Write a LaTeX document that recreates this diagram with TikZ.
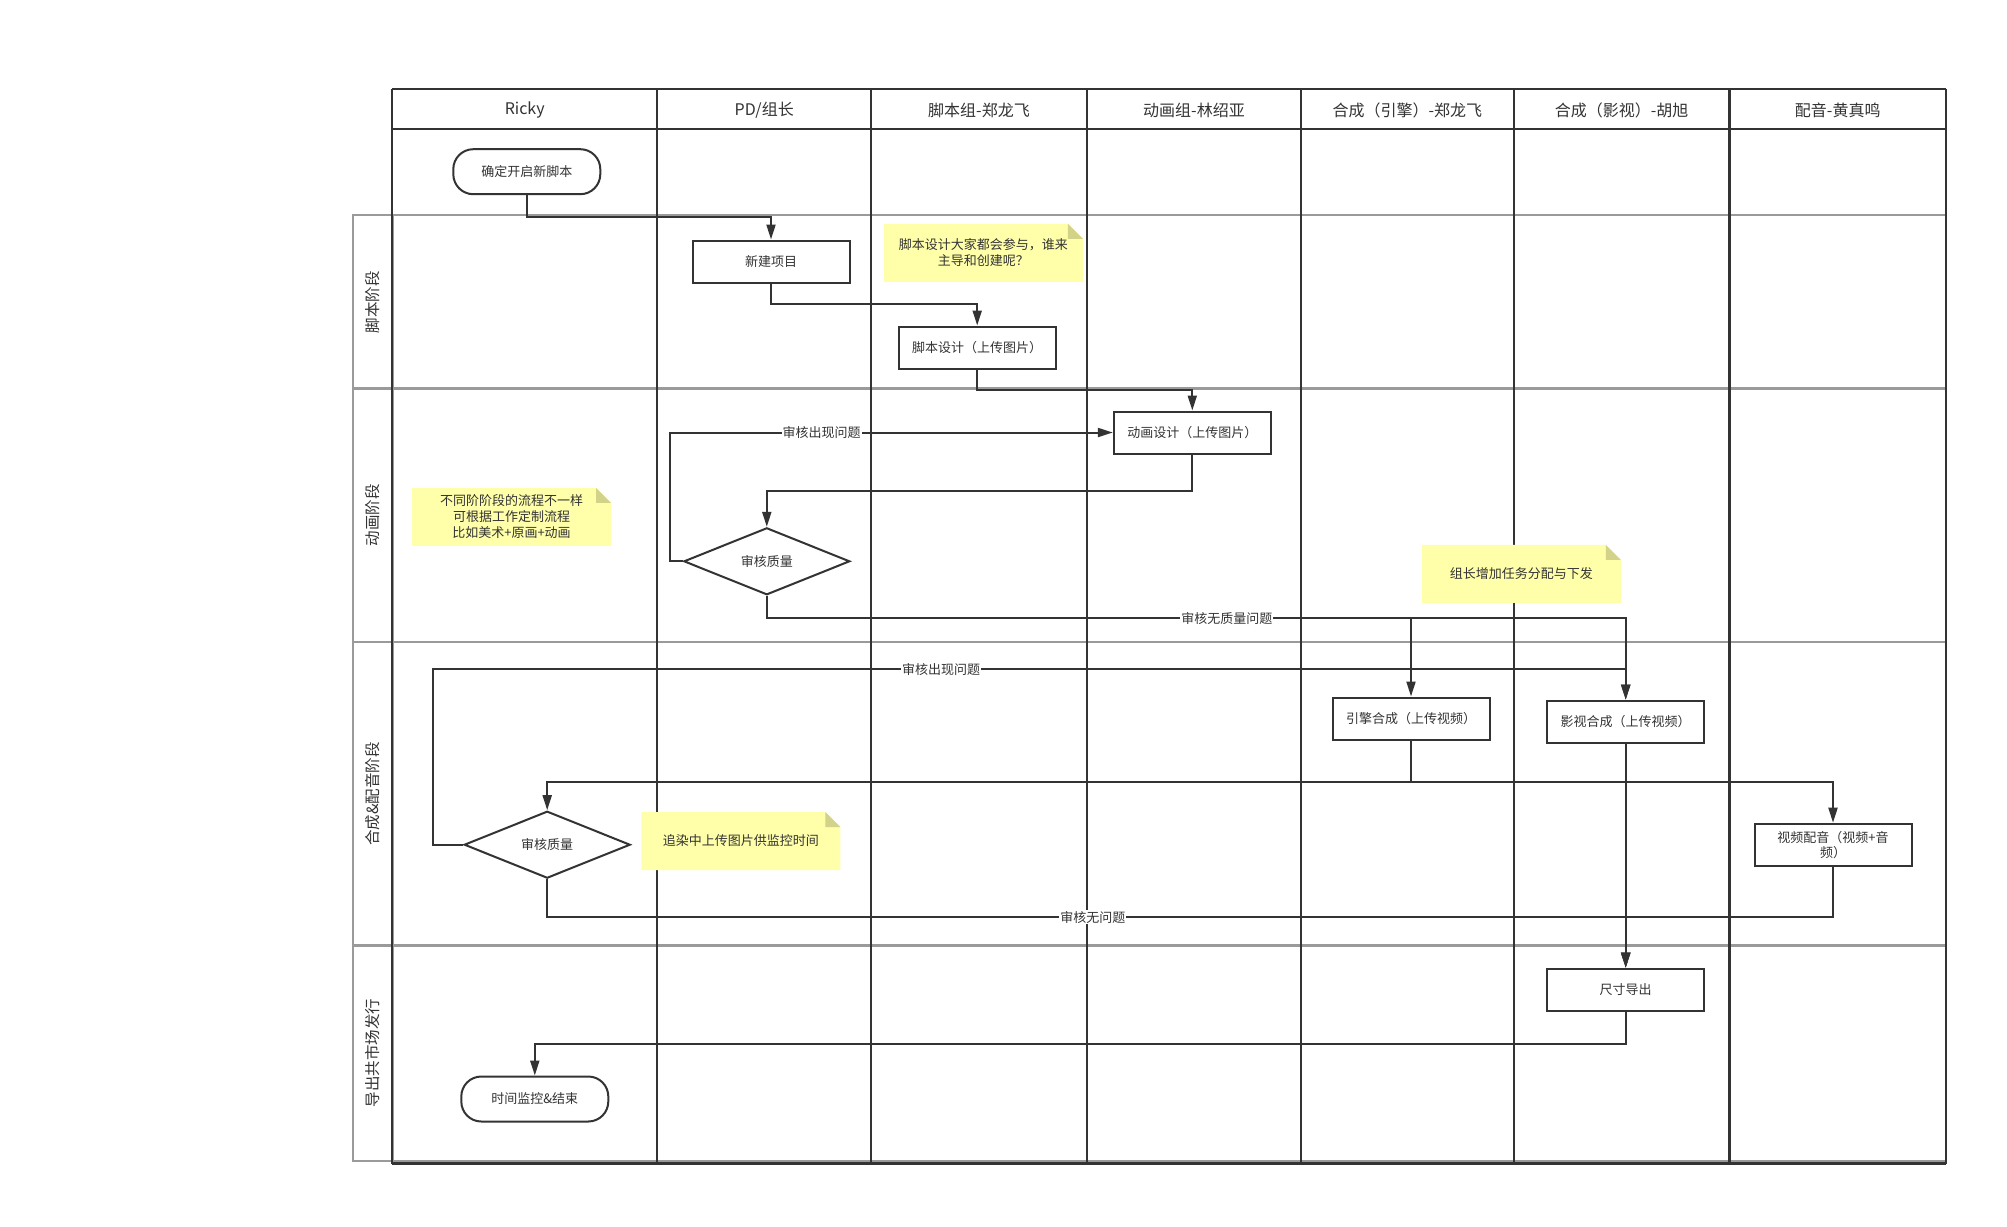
\documentclass[tikz,border=0pt]{standalone}
\usepackage{fontspec}
\setmainfont{Noto Sans CJK SC}
\usetikzlibrary{shapes.geometric,arrows.meta}
\definecolor{ink}{HTML}{333333}
\definecolor{rowgray}{HTML}{9A9A9A}
\definecolor{notey}{HTML}{FFFFAA}
\definecolor{notefold}{HTML}{D2D288}
\tikzset{
  colline/.style={draw=ink, line width=2pt},
  rowline/.style={draw=rowgray, line width=2.5pt},
  proc/.style={draw=ink, line width=2pt, fill=white, rectangle, inner sep=2pt, align=center, text=ink,
    minimum width=157pt, minimum height=42pt, font=\fontsize{13}{15}\selectfont},
  term/.style={proc, rounded corners=20pt, minimum width=147pt, minimum height=45pt},
  decide/.style={draw=ink, line width=2pt, fill=white, diamond, aspect=2.4, inner sep=0pt,
    minimum width=166pt, minimum height=67pt, text=ink, font=\fontsize{13}{15}\selectfont},
  arr/.style={draw=ink, line width=2pt, -{Triangle[length=15pt,width=9pt]}},
  elabel/.style={fill=white, inner sep=1pt, text=ink, font=\fontsize{13}{15}\selectfont},
  head/.style={text=ink, font=\fontsize{16}{18}\selectfont},
  phase/.style={text=ink, rotate=90, font=\fontsize{15.5}{18}\selectfont},
  notebox/.style={draw=none, align=center, text=ink, inner sep=0pt,
    minimum width=199pt, minimum height=58pt, font=\fontsize{13}{16}\selectfont,
    path picture={
      \fill[notey] (path picture bounding box.north west)
        -- ([xshift=-15pt]path picture bounding box.north east)
        -- ([yshift=-15pt]path picture bounding box.north east)
        -- (path picture bounding box.south east)
        -- (path picture bounding box.south west) -- cycle;
      \fill[notefold] ([xshift=-15pt]path picture bounding box.north east)
        -- ([xshift=-15pt,yshift=-15pt]path picture bounding box.north east)
        -- ([yshift=-15pt]path picture bounding box.north east) -- cycle;
    }},
}
\begin{document}
\begin{tikzpicture}[x=1pt,y=-1pt]
\useasboundingbox[fill=white] (0,0) rectangle (2007,1226);

% ---- phase rows (gray) ----
\draw[draw=rowgray, line width=2.5pt] (353,215) rectangle (392.3,1161);
\foreach \yy in {215,388.3,642,945.5,1161}
  \draw[rowline] (353,\yy) -- (1945.6,\yy);

% ---- columns ----
\foreach \xx in {392.3,657.1,871.4,1086.7,1301.3,1513.5,1945.6}
  \draw[colline] (\xx,89) -- (\xx,1163.5);
\draw[draw=ink, line width=3pt] (1729.8,89) -- (1729.8,1163.5);
\draw[colline] (392.3,89) -- (1945.6,89);
\draw[draw=ink, line width=2.5pt] (392.3,129) -- (1945.6,129);
\draw[draw=ink, line width=2.5pt] (392.3,1163.5) -- (1945.6,1163.5);

% ---- headers ----
\node[head] (h1) at (524.7,110) {Ricky};
\node[head] (h2) at (764.2,110) {PD/组长};
\node[head] (h3) at (979,110) {脚本组-郑龙飞};
\node[head] (h4) at (1194,110) {动画组-林绍亚};
\node[head] (h5) at (1407.4,110) {合成（引擎）-郑龙飞};
\node[head] (h6) at (1621.6,110) {合成（影视）-胡旭};
\node[head] (h7) at (1837.7,110) {配音-黄真鸣};

% ---- phase labels ----
\node[phase] (p1) at (373,302) {脚本阶段};
\node[phase] (p2) at (373,515) {动画阶段};
\node[phase] (p3) at (373,794) {合成\&配音阶段};
\node[phase] (p4) at (373,1053) {导出共市场发行};

% ---- notes ----
\node[notebox] (n1) at (983.4,252.9) {脚本设计大家都会参与，谁来\\主导和创建呢？};
\node[notebox] (n2) at (511.5,516.9) {不同阶阶段的流程不一样\\可根据工作定制流程\\比如美术+原画+动画};
\node[notebox] (n3) at (1521.3,573.9) {组长增加任务分配与下发};
\node[notebox] (n4) at (740.8,841) {追染中上传图片供监控时间};

% ---- flow nodes ----
\node[term] (start) at (526.8,171.7) {确定开启新脚本};
\node[proc] (new) at (771,261.5) {新建项目};
\node[proc] (script) at (977.2,347.5) {脚本设计（上传图片）};
\node[proc] (anim) at (1192.3,432.5) {动画设计（上传图片）};
\node[decide] (d1) at (766.8,561.3) {审核质量};
\node[proc] (eng) at (1411,718.5) {引擎合成（上传视频）};
\node[proc] (film) at (1625.7,721.7) {影视合成（上传视频）};
\node[proc] (dub) at (1833,844.7) {视频配音（视频+音\\频）};
\node[decide] (d2) at (547.2,844.7) {审核质量};
\node[proc] (size) at (1625.7,989.7) {尺寸导出};
\node[term] (end) at (534.8,1099) {时间监控\&结束};

% ---- connectors ----
\draw[arr] (start.south) -- ++(0,21.7) -| (new.north);
\draw[arr] (new.south) -- ++(0,20.3) -| (script.north);
\draw[arr] (script.south) -- ++(0,20) -| (anim.north);
\draw[arr] (anim.south) -- ++(0,36.4) -| (d1.north);
\draw[arr] (d1.west) -- ++(-12.7,0) |- node[elabel,pos=0.671] {审核出现问题} (anim.west);
\draw[arr] (d1.south) -- ++(0,22.3) -| (film.north);
\draw[arr] (d1.south) -- ++(0,22.3) -| node[elabel,pos=0.357] {审核无质量问题} (eng.north);
\draw[arr] (d2.west) -- ++(-30.1,0) |- node[elabel,pos=0.713] {审核出现问题} ([yshift=30.4pt]film.north) -- (film.north);
\draw[arr] (eng.south) -- ++(0,41.4) -| (d2.north);
\draw[arr] (eng.south) -- ++(0,41.4) -| (dub.north);
\draw[arr] (film.south) -- (size.north);
\draw[arr] (dub.south) -- ++(0,50.6) -| (size.north);
\draw[arr] (d2.south) -- ++(0,38) -| node[elabel,pos=0.253] {审核无问题} (size.north);
\draw[arr] (size.south) -- ++(0,32) -| (end.north);
\end{tikzpicture}
\end{document}
